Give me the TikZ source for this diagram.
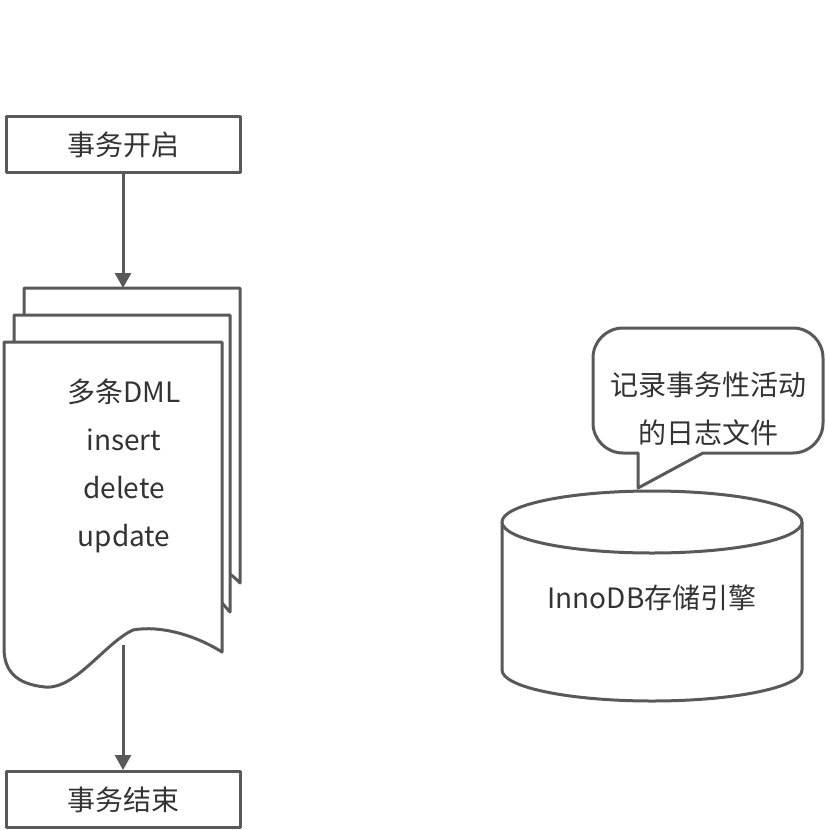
\documentclass[tikz,border=0pt]{standalone}
\usepackage{fontspec}
\setmainfont{Noto Sans CJK SC}
\usetikzlibrary{positioning, arrows.meta}

\definecolor{linegray}{HTML}{595959}
\definecolor{textgray}{HTML}{333333}

\begin{document}
\begin{tikzpicture}[x=1pt, y=1pt, line width=3pt, line join=round,
  font=\fontsize{28}{48}\selectfont, text=textgray,
  box node/.style={rectangle,draw=linegray,fill=white,minimum width=234pt,minimum height=56pt,inner sep=0pt},
  label node/.style={align=center,inner sep=0pt},
  page/.style={draw=linegray,fill=white},
  flow/.style={draw=linegray,-{Triangle[length=15pt,width=16pt]}}]

\useasboundingbox (0,0) rectangle (826,-830);

% begin and end of the transaction
\node[box node] (start) at (123,-144.5) {事务开启};
\node[box node] (end) [below=596pt of start] {事务结束};

% stack of DML pages
\draw[page] (24,-315) -- (24,-288) -- (240,-288) -- (240,-583) .. controls (237,-580) and (234,-577) .. (230,-574);
\draw[page] (14,-342) -- (14,-315) -- (230,-315) -- (230,-612) .. controls (227,-609) and (225,-606) .. (222,-603);
\draw[page] (4,-342) -- (222,-342) -- (222,-652) .. controls (195,-635) and (160,-625) .. (133,-630)
  .. controls (105,-643) and (75,-690) .. (45,-687) .. controls (15,-684) and (4,-670) .. (4,-648) -- cycle;
\node[label node] (dml) at (124,-466) {多条DML\\insert\\delete\\update};

\coordinate (top) at (123,-288);
\coordinate (bot) at (123,-645);
\draw[flow] (start) -- (top);
\draw[flow] (bot) -- (end);

% storage engine
\draw[page] (502,-522) -- (502,-670) arc (180:360:150 and 31) -- (802,-522);
\draw[page] (652,-522) ellipse (150 and 31);
\node[label node] (db) at (652,-598) {InnoDB存储引擎};

% callout
\draw[page] (638,-488) -- (638,-453) -- (623,-453) arc (270:180:30) -- (593,-358) arc (180:90:30)
  -- (793,-328) arc (90:0:30) -- (823,-423) arc (0:-90:30) -- (703,-453) -- cycle;
\node[label node] (note) at (708,-409) {记录事务性活动\\的日志文件};

\end{tikzpicture}
\end{document}
